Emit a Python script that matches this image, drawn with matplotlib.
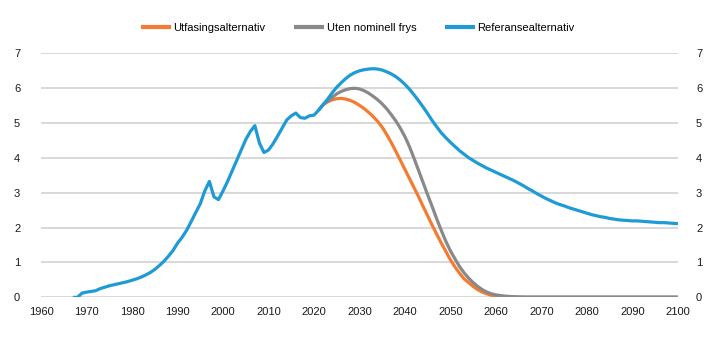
import matplotlib
matplotlib.use("Agg")
import matplotlib.pyplot as plt
import numpy as np

plt.rcParams['font.family'] = ['Liberation Sans', 'DejaVu Sans']

# Referansealternativ (1967-2100)
ref_years = list(range(1967, 2101))
ref_values = [
    0.00, 0.00, 0.12, 0.15, 0.17, 0.19, 0.25, 0.29, 0.33, 0.36,   # 1967-1976
    0.39, 0.42, 0.45, 0.49, 0.53, 0.58, 0.64, 0.71, 0.80, 0.91,   # 1977-1986
    1.03, 1.18, 1.34, 1.55, 1.72, 1.92, 2.17, 2.43, 2.68, 3.05,   # 1987-1996
    3.32, 2.88, 2.80, 3.05, 3.32, 3.62, 3.92, 4.22, 4.52, 4.75,   # 1997-2006
    4.92, 4.42, 4.15, 4.22, 4.40, 4.62, 4.85, 5.08, 5.20, 5.28,   # 2007-2016
    5.15, 5.13, 5.20, 5.22, 5.36, 5.52, 5.68, 5.86, 6.02, 6.15,   # 2017-2026
    6.27, 6.37, 6.44, 6.49, 6.52, 6.54, 6.55, 6.54, 6.51, 6.46,   # 2027-2036
    6.40, 6.32, 6.22, 6.10, 5.96, 5.80, 5.63, 5.45, 5.26, 5.06,   # 2037-2046
    4.88, 4.71, 4.57, 4.44, 4.32, 4.20, 4.10, 4.00, 3.92, 3.84,   # 2047-2056
    3.77, 3.70, 3.64, 3.58, 3.52, 3.46, 3.40, 3.34, 3.27, 3.20,   # 2057-2066
    3.12, 3.05, 2.97, 2.90, 2.83, 2.77, 2.71, 2.66, 2.62, 2.57,   # 2067-2076
    2.53, 2.49, 2.45, 2.41, 2.37, 2.34, 2.31, 2.29, 2.26, 2.24,   # 2077-2086
    2.22, 2.21, 2.20, 2.19, 2.19, 2.18, 2.17, 2.16, 2.15, 2.14,   # 2087-2096
    2.14, 2.13, 2.12, 2.11,                                       # 2097-2100
]

# Uten nominell frys (2021-2100)
frys_years = list(range(2021, 2101))
frys_values = [
    5.36, 5.52, 5.63, 5.73, 5.83, 5.90, 5.95, 5.98, 5.99, 5.97,   # 2021-2030
    5.92, 5.85, 5.76, 5.66, 5.54, 5.40, 5.23, 5.05, 4.84, 4.60,   # 2031-2040
    4.31, 3.98, 3.63, 3.28, 2.93, 2.59, 2.24, 1.91, 1.60, 1.33,   # 2041-2050
    1.10, 0.88, 0.70, 0.55, 0.42, 0.31, 0.22, 0.15, 0.10, 0.07,   # 2051-2060
    0.05, 0.035, 0.025, 0.02, 0.015, 0.012, 0.01, 0.01, 0.01, 0.01,  # 2061-2070
] + [0.01] * 30                                                   # 2071-2100

# Utfasingsalternativ (2021-2100)
utf_years = list(range(2021, 2101))
utf_values = [
    5.36, 5.52, 5.60, 5.66, 5.69, 5.70, 5.68, 5.64, 5.58, 5.50,   # 2021-2030
    5.41, 5.30, 5.18, 5.04, 4.87, 4.66, 4.43, 4.18, 3.92, 3.66,   # 2031-2040
    3.40, 3.14, 2.88, 2.60, 2.33, 2.06, 1.80, 1.55, 1.31, 1.07,   # 2041-2050
    0.87, 0.69, 0.53, 0.42, 0.31, 0.22, 0.15, 0.10, 0.06, 0.04,   # 2051-2060
    0.025, 0.015, 0.01, 0.005, 0.0,                               # 2061-2065
] + [0.0] * 35                                                    # 2066-2100

x_ticks = list(range(1960, 2101, 10))
y_ticks = list(range(0, 8))

labels = ["Utfasingsalternativ", "Uten nominell frys", "Referansealternativ"]
colors = ["#F47B2F", "#898989", "#1E9AD6"]

fig = plt.figure(figsize=(7.2, 3.41), dpi=100)
ax = fig.add_axes([0.057, 0.128, 0.8846, 0.7166])

lw = 2.3
ax.plot(utf_years, utf_values, color=colors[0], lw=lw, label=labels[0], zorder=3,
        solid_capstyle='butt')
ax.plot(frys_years, frys_values, color=colors[1], lw=lw, label=labels[1], zorder=4,
        solid_capstyle='butt')
ax.plot(ref_years, ref_values, color=colors[2], lw=lw, label=labels[2], zorder=5,
        solid_capstyle='butt')

ax.set_xlim(1960, 2100)
ax.set_ylim(0, 7)
ax.set_xticks(x_ticks)
ax.set_yticks(y_ticks)
ax.grid(axis='y', color='#D6D6D6', lw=1.3, zorder=0)
ax.set_axisbelow(True)
for s in ax.spines.values():
    s.set_visible(False)
ax.tick_params(axis='x', length=0, pad=7, labelsize=8, colors='#1a1a1a')
ax.tick_params(axis='y', length=0, pad=15, labelsize=8, colors='#1a1a1a')

ax2 = ax.twinx()
ax2.set_ylim(0, 7)
ax2.set_yticks(y_ticks)
for s in ax2.spines.values():
    s.set_visible(False)
ax2.tick_params(axis='y', length=0, pad=13, labelsize=8, colors='#1a1a1a')

handles, labs = ax.get_legend_handles_labels()
leg = fig.legend(handles, labs, loc='center', bbox_to_anchor=(0.497, 0.918), ncol=3,
                 frameon=False, fontsize=8, handlelength=2.7, handletextpad=0.2,
                 columnspacing=2.6)
for h in leg.get_lines():
    h.set_linewidth(3)

fig.savefig("out.png", dpi=100)
